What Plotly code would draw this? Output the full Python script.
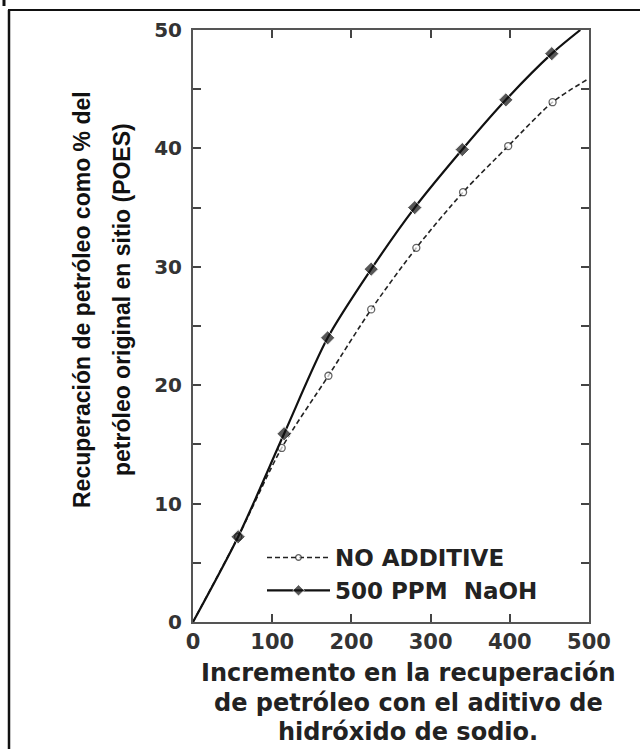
import plotly.graph_objects as go

# Data
x_naoh = [0, 57, 115, 170, 225, 280, 340, 395, 453, 489]
y_naoh = [0, 7.2, 15.9, 24.0, 29.8, 35.0, 39.9, 44.1, 48.0, 50.0]
x_noadd = [0, 57, 112, 171, 225, 282, 341, 398, 454, 500]
y_noadd = [0, 7.2, 14.7, 20.8, 26.4, 31.6, 36.3, 40.2, 43.9, 45.9]
# marker shown only at measured points (not at curve ends)
m_naoh = [0, 1, 1, 1, 1, 1, 1, 1, 1, 0]
m_noadd = [0, 1, 1, 1, 1, 1, 1, 1, 1, 0]

x_ticks = [0, 100, 200, 300, 400, 500]
y_ticks = [0, 10, 20, 30, 40, 50]

name_noadd = "NO ADDITIVE"
name_naoh = "500 PPM\u00a0\u00a0NaOH"
x_title = ["Incremento en la recuperación",
           "de petróleo con el aditivo de",
           "hidróxido de sodio."]
y_title = ["Recuperación de petróleo como % del",
           "petróleo original en sitio (POES)"]

W, H = 640, 749
L, R, T, B = 193, 51, 30, 127
pw, ph = W - L - R, H - T - B


def px(xp):
    return (xp - L) / pw


def py(yp):
    return (H - B - yp) / ph


fig = go.Figure()
fig.add_trace(go.Scatter(
    x=x_noadd, y=y_noadd, name=name_noadd, mode="lines+markers",
    line=dict(color="#222", width=1.6, dash="5px,3px", shape="spline", smoothing=0.8),
    marker=dict(symbol="circle", size=[7 * v for v in m_noadd], color="white",
                line=dict(color="#222", width=1.3)),
    legendgroup="a",
))
fig.add_trace(go.Scatter(
    x=x_naoh, y=y_naoh, name=name_naoh, mode="lines+markers",
    line=dict(color="#111", width=2.2, shape="spline", smoothing=0.8),
    marker=dict(symbol="diamond", size=[11 * v for v in m_naoh], color="#111"),
    legendgroup="b",
))

fig.update_xaxes(
    range=[0, 500], tickvals=x_ticks, ticks="inside", ticklen=8, tickwidth=1.5,
    tickcolor="#444", showline=True, linecolor="#555", linewidth=2, mirror="allticks",
    showgrid=False, zeroline=False, ticklabelstandoff=0,
    tickfont=dict(family="DejaVu Sans", size=21, color="#333", weight="bold"),
)
fig.update_yaxes(
    range=[0, 50], tickvals=y_ticks, ticks="inside", ticklen=8, tickwidth=1.5,
    tickcolor="#444", showline=True, linecolor="#555", linewidth=2, mirror="allticks",
    showgrid=False, zeroline=False, ticklabelstandoff=5,
    tickfont=dict(family="DejaVu Sans", size=20, color="#333", weight="bold"),
    minor=dict(dtick=5, ticks="inside", ticklen=8, tickwidth=1.5, tickcolor="#444"),
)

annotations = []
x_title_y = [673, 703, 732]
for t, yy in zip(x_title, x_title_y):
    annotations.append(dict(
        text=t, xref="paper", yref="paper", x=px(408), y=py(yy),
        xanchor="center", yanchor="middle", showarrow=False,
        font=dict(family="DejaVu Sans", size=24, color="#222", weight="bold")))
for i, t in enumerate(y_title):
    annotations.append(dict(
        text=t, xref="paper", yref="paper", x=px(82 + 40 * i), y=py(300),
        xanchor="center", yanchor="middle", showarrow=False, textangle=-90,
        font=dict(family="Liberation Sans", size=23, color="#111", weight="bold")))

shapes = [
    dict(type="line", xref="paper", yref="paper", x0=px(8), x1=px(641),
         y0=py(10), y1=py(10), line=dict(color="#111", width=2)),
    dict(type="line", xref="paper", yref="paper", x0=px(9), x1=px(9),
         y0=py(10), y1=py(750), line=dict(color="#111", width=2.5)),
    dict(type="line", xref="paper", yref="paper", x0=px(4), x1=px(4),
         y0=py(-1), y1=py(6), line=dict(color="#111", width=3)),
]

fig.update_layout(
    width=W, height=H, margin=dict(l=L, r=R, t=T, b=B),
    paper_bgcolor="white", plot_bgcolor="white",
    showlegend=True,
    legend=dict(x=px(262), y=py(536), xanchor="left", yanchor="top",
                bgcolor="rgba(0,0,0,0)", tracegroupgap=0, itemwidth=63,
                font=dict(family="DejaVu Sans", size=23, color="#222", weight="bold")),
    annotations=annotations, shapes=shapes,
)

fig.write_html("out.html")
